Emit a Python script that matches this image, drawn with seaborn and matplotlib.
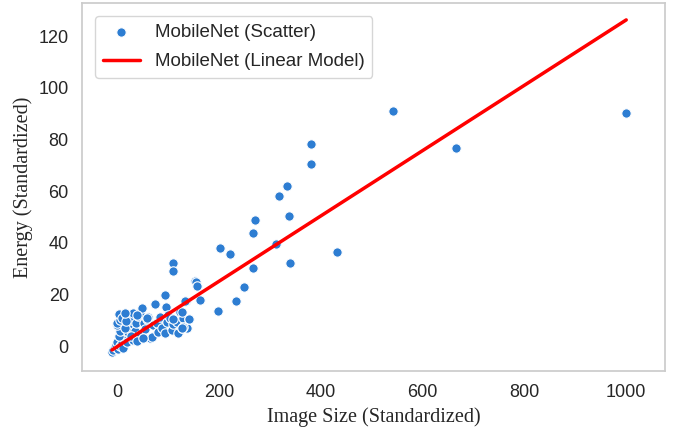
import numpy as np
import pandas as pd
import matplotlib
matplotlib.use("Agg")
import matplotlib.pyplot as plt
import seaborn as sns

# image size vs energy (both standardized)
image_size = [
    -10, -8, -5, -3, 0, 2, 5, 9, 12, 12, 15, 20, 3, 6, 0, -1, 6, 3, 10, 19,
    25, 22, 28, 32, 32, 35, 38, 42, 45, 45, 48, 52, 55, 58, 61, 65, 68, 70, 75, 78,
    80, 84, 88, 94, 96, 94, 98, 100, 104, 107, 110, 117, 120, 124, 127, 130, 137, 135, 15, 18,
    28, 40, 50, 16, 39, 58, 109, 129, 142, 109, 109, 153, 157, 163, 134, 127, 141, 127,
    155, 158, 198, 234, 250, 268, 339, 432, 221, 203, 312, 268, 272, 337, 318, 335,
    381, 381, 543, 666, 1001,
]
energy = [
    -2.5, -1.5, -0.5, 0.5, 1.5, -1.0, 0.2, 1.0, -0.9, 4.3, 2.5, 1.5, 4.0, 6.0, 8.0, 8.8, 10.0, 12.4, 11.0, 12.0,
    8.1, 5.5, 10.0, 12.7, 2.3, 6.0, 9.0, 11.5, 12.7, 4.3, 14.6, 8.8, 6.5, 10.5, 11.3, 3.0, 3.6, 8.0, 16.3, 8.8,
    5.5, 11.3, 7.0, 4.9, 15.1, 19.7, 9.4, 12.0, 10.7, 6.2, 8.5, 9.4, 5.0, 13.3, 6.8, 11.0, 6.8, 17.5, 7.0, 9.5,
    4.0, 2.0, 3.0, 12.8, 12.0, 10.7, 10.3, 7.2, 10.3, 32.0, 29.2, 25.3, 23.2, 17.8, 17.3, 13.3, 10.3, 7.1,
    24.9, 23.2, 13.7, 17.3, 23.0, 30.3, 32.0, 36.3, 35.6, 38.1, 39.6, 43.6, 48.6, 50.2, 58.2, 61.9,
    70.3, 78.2, 90.9, 76.5, 90.2,
]

# fitted linear model
intercept = -0.26
slope = 0.1264

df = pd.DataFrame({"Image Size": image_size, "Energy": energy})
line_x = np.array([df["Image Size"].min(), df["Image Size"].max()])
line_y = intercept + slope * line_x

sns.set_theme(style="whitegrid")
plt.rcParams["font.family"] = ["Liberation Sans", "DejaVu Sans"]

fig, ax = plt.subplots(figsize=(6.75, 4.34), dpi=100)
sns.scatterplot(data=df, x="Image Size", y="Energy", color="#2d7dd2", s=46,
                edgecolor="white", linewidth=0.8, label="MobileNet (Scatter)", ax=ax)
sns.lineplot(x=line_x, y=line_y, color="red", linewidth=2.5,
             label="MobileNet (Linear Model)", ax=ax)

ax.grid(False)
ax.set_xlim(-69, 1077)
ax.set_ylim(-9.7, 132.8)
ax.set_xticks([0, 200, 400, 600, 800, 1000])
ax.set_yticks([0, 20, 40, 60, 80, 100, 120])
ax.tick_params(labelsize=13, colors="#262626")
ax.set_xlabel("Image Size (Standardized)", family="Liberation Serif", fontsize=14.5)
ax.set_ylabel("Energy (Standardized)", family="Liberation Serif", fontsize=14.5)
ax.legend(loc="upper left", fontsize=13.5, labelspacing=0.65, borderaxespad=0.7)

fig.subplots_adjust(left=0.1215, right=0.985, top=0.993, bottom=0.145)
fig.savefig("out.png", dpi=100)
